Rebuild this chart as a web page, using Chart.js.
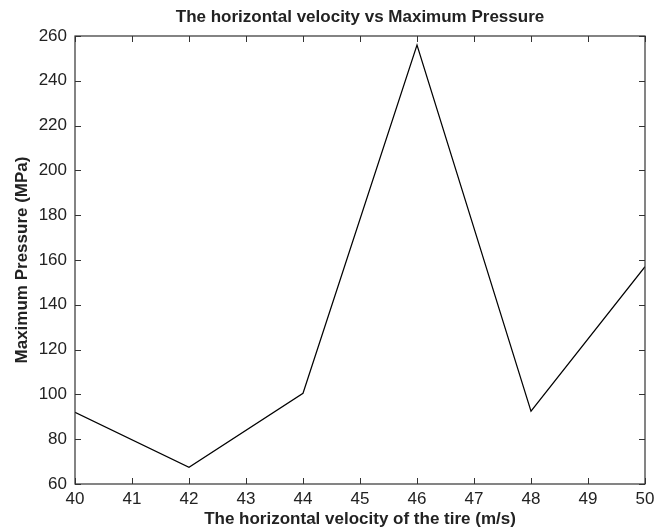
<!DOCTYPE html>
<html>
<head>
<meta charset="utf-8">
<script src="https://cdn.jsdelivr.net/npm/chart.js@4/dist/chart.umd.min.js"></script>
<style>
  html, body { margin: 0; padding: 0; background: #fff; }
  #wrap { width: 665px; height: 530px; }
</style>
</head>
<body>
<div id="wrap"><canvas id="c" width="665" height="530"></canvas></div>
<script>
// Data
const velocities = [40, 42, 44, 46, 48, 50];
const pressures = [92, 67.5, 100.5, 256, 92.5, 157];
const xTicks = [40, 41, 42, 43, 44, 45, 46, 47, 48, 49, 50];
const yTicks = [60, 80, 100, 120, 140, 160, 180, 200, 220, 240, 260];

const chartTitle = 'The horizontal velocity vs Maximum Pressure';
const xTitle = 'The horizontal velocity of the tire (m/s)';
const yTitle = 'Maximum Pressure (MPa)';

const FONT = "'Liberation Sans', Arial, Helvetica, sans-serif";
const AXIS = '#333';
const TEXT = '#222';

// MATLAB-style inward ticks on all four sides plus the box
const innerTicks = {
  id: 'innerTicks',
  afterDraw(chart) {
    const {ctx, chartArea: a, scales: {x, y}} = chart;
    const L = 6;
    ctx.save();
    ctx.strokeStyle = AXIS;
    ctx.lineWidth = 1;
    ctx.beginPath();
    xTicks.forEach(v => {
      const px = Math.round(x.getPixelForValue(v)) + 0.5;
      ctx.moveTo(px, a.bottom); ctx.lineTo(px, a.bottom - L);
      ctx.moveTo(px, a.top); ctx.lineTo(px, a.top + L);
    });
    yTicks.forEach(v => {
      const py = Math.round(y.getPixelForValue(v)) + 0.5;
      ctx.moveTo(a.left, py); ctx.lineTo(a.left + L, py);
      ctx.moveTo(a.right, py); ctx.lineTo(a.right - L, py);
    });
    ctx.stroke();
    ctx.lineWidth = 1.2;
    ctx.strokeRect(a.left, a.top, a.right - a.left, a.bottom - a.top);
    ctx.restore();
  }
};

new Chart(document.getElementById('c'), {
  type: 'line',
  data: {
    datasets: [{
      data: velocities.map((v, i) => ({x: v, y: pressures[i]})),
      borderColor: '#000',
      borderWidth: 1.2,
      pointRadius: 0,
      tension: 0,
      fill: false
    }]
  },
  options: {
    responsive: false,
    animation: false,
    devicePixelRatio: 1,
    layout: { padding: { left: 0, right: 20, top: 0, bottom: 0 } },
    plugins: {
      legend: { display: false },
      tooltip: { enabled: false },
      title: {
        display: true,
        text: chartTitle,
        fullSize: false,
        color: TEXT,
        font: { family: FONT, size: 17, weight: 'bold' },
        padding: { top: 7, bottom: 8.6 }
      }
    },
    scales: {
      x: {
        type: 'linear',
        min: 40, max: 50,
        afterFit(s) { s.height = 46; },
        afterBuildTicks(s) { s.ticks = xTicks.map(v => ({value: v})); },
        grid: { display: false, drawTicks: false },
        border: { display: false },
        ticks: { color: TEXT, font: { family: FONT, size: 17 }, padding: 5, maxRotation: 0, autoSkip: false },
        title: { display: true, text: xTitle, color: TEXT, font: { family: FONT, size: 17, weight: 'bold' }, padding: { top: 0, bottom: 0 } }
      },
      y: {
        type: 'linear',
        min: 60, max: 260,
        afterFit(s) { s.width = 75; },
        afterBuildTicks(s) { s.ticks = yTicks.map(v => ({value: v})); },
        grid: { display: false, drawTicks: false },
        border: { display: false },
        ticks: { color: TEXT, font: { family: FONT, size: 17 }, padding: 8, autoSkip: false },
        title: { display: true, text: yTitle, color: TEXT, font: { family: FONT, size: 17, weight: 'bold' }, padding: { top: 12, bottom: 0 } }
      }
    }
  },
  plugins: [innerTicks]
});
</script>
</body>
</html>
